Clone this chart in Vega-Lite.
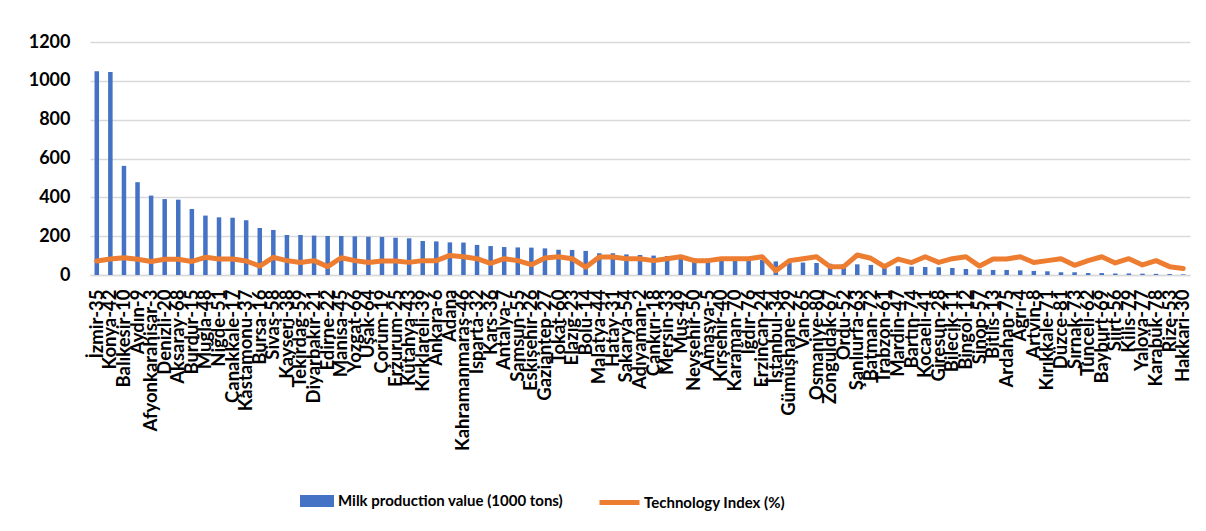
{
  "$schema": "https://vega.github.io/schema/vega-lite/v6.json",
  "width": 1100,
  "height": 233,
  "autosize": {"type": "none"},
  "padding": {"left": 90, "top": 42, "right": 16, "bottom": 256},
  "background": "white",
  "config": {
    "view": {"stroke": null},
    "font": "Lato",
    "axis": {"labelFont": "Lato", "labelColor": "#000000", "labelFontWeight": "bold"},
    "legend": {"labelFont": "Lato", "labelColor": "#000000", "labelFontWeight": "bold"}
  },
  "data": {"values": [
    {"p": "İzmir-35", "milk": 1049, "tech": 72},
    {"p": "Konya-42", "milk": 1045, "tech": 82},
    {"p": "Balıkesir-10", "milk": 562, "tech": 89},
    {"p": "Aydın-9", "milk": 478, "tech": 81},
    {"p": "Afyonkarahisar-3", "milk": 409, "tech": 70},
    {"p": "Denizli-20", "milk": 391, "tech": 81},
    {"p": "Aksaray-68", "milk": 388, "tech": 81},
    {"p": "Burdur-15", "milk": 340, "tech": 70},
    {"p": "Muğla-48", "milk": 306, "tech": 91},
    {"p": "Niğde-51", "milk": 297, "tech": 82},
    {"p": "Çanakkale-17", "milk": 295, "tech": 82},
    {"p": "Kastamonu-37", "milk": 282, "tech": 72},
    {"p": "Bursa-16", "milk": 242, "tech": 46},
    {"p": "Sivas-58", "milk": 232, "tech": 91},
    {"p": "Kayseri-38", "milk": 206, "tech": 74},
    {"p": "Tekirdağ-59", "milk": 206, "tech": 64},
    {"p": "Diyarbakır-21", "milk": 203, "tech": 74},
    {"p": "Edirne-22", "milk": 201, "tech": 43},
    {"p": "Manisa-45", "milk": 201, "tech": 89},
    {"p": "Yozgat-66", "milk": 199, "tech": 74},
    {"p": "Uşak-64", "milk": 197, "tech": 64},
    {"p": "Çorum-19", "milk": 196, "tech": 72},
    {"p": "Erzurum-25", "milk": 192, "tech": 72},
    {"p": "Kütahya-43", "milk": 189, "tech": 65},
    {"p": "Kırklareli-39", "milk": 175, "tech": 74},
    {"p": "Ankara-6", "milk": 173, "tech": 74},
    {"p": "Adana", "milk": 168, "tech": 101},
    {"p": "Kahramanmaraş-46", "milk": 167, "tech": 94},
    {"p": "Isparta-32", "milk": 155, "tech": 84},
    {"p": "Kars-36", "milk": 149, "tech": 60},
    {"p": "Antalya-7", "milk": 144, "tech": 84},
    {"p": "Samsun-55", "milk": 142, "tech": 74},
    {"p": "Eskişehir-26", "milk": 141, "tech": 53},
    {"p": "Gaziantep-27", "milk": 137, "tech": 88},
    {"p": "Tokat-60", "milk": 130, "tech": 94},
    {"p": "Elazığ-23", "milk": 129, "tech": 84},
    {"p": "Bolu-14", "milk": 124, "tech": 40},
    {"p": "Malatya-44", "milk": 112, "tech": 93},
    {"p": "Hatay-31", "milk": 112, "tech": 93},
    {"p": "Sakarya-54", "milk": 106, "tech": 84},
    {"p": "Adıyaman-2", "milk": 103, "tech": 84},
    {"p": "Çankırı-18", "milk": 100, "tech": 74},
    {"p": "Mersin-33", "milk": 98, "tech": 84},
    {"p": "Muş-49", "milk": 96, "tech": 94},
    {"p": "Nevşehir-50", "milk": 86, "tech": 74},
    {"p": "Amasya-5", "milk": 84, "tech": 74},
    {"p": "Kırşehir-40", "milk": 83, "tech": 84},
    {"p": "Karaman-70", "milk": 82, "tech": 84},
    {"p": "Iğdır-76", "milk": 80, "tech": 84},
    {"p": "Erzincan-24", "milk": 78, "tech": 94},
    {"p": "İstanbul-34", "milk": 70, "tech": 22},
    {"p": "Gümüşhane-29", "milk": 65, "tech": 74},
    {"p": "Van-65", "milk": 64, "tech": 84},
    {"p": "Osmaniye-80", "milk": 62, "tech": 94},
    {"p": "Zonguldak-67", "milk": 58, "tech": 43},
    {"p": "Ordu-52", "milk": 55, "tech": 43},
    {"p": "Şanlıurfa-63", "milk": 55, "tech": 103},
    {"p": "Batman-72", "milk": 52, "tech": 86},
    {"p": "Trabzon-61", "milk": 50, "tech": 43},
    {"p": "Mardin-47", "milk": 45, "tech": 82},
    {"p": "Bartın-74", "milk": 43, "tech": 64},
    {"p": "Kocaeli-41", "milk": 41, "tech": 94},
    {"p": "Giresun-28", "milk": 40, "tech": 65},
    {"p": "Bilecik-11", "milk": 36, "tech": 84},
    {"p": "Bingöl-12", "milk": 31, "tech": 94},
    {"p": "Sinop-57", "milk": 29, "tech": 46},
    {"p": "Bitlis-13", "milk": 26, "tech": 82},
    {"p": "Ardahan-75", "milk": 26, "tech": 82},
    {"p": "Ağrı-4", "milk": 24, "tech": 94},
    {"p": "Artvin-8", "milk": 21, "tech": 64},
    {"p": "Kırıkkale-71", "milk": 19, "tech": 74},
    {"p": "Düzce-81", "milk": 14, "tech": 84},
    {"p": "Şırnak-73", "milk": 14, "tech": 50},
    {"p": "Tunceli-62", "milk": 10, "tech": 74},
    {"p": "Bayburt-69", "milk": 10, "tech": 94},
    {"p": "Siirt-56", "milk": 8, "tech": 62},
    {"p": "Kilis-79", "milk": 8, "tech": 84},
    {"p": "Yalova-77", "milk": 7, "tech": 52},
    {"p": "Karabük-78", "milk": 6, "tech": 74},
    {"p": "Rize-53", "milk": 5, "tech": 43},
    {"p": "Hakkari-30", "milk": 3, "tech": 33}
  ]},
  "encoding": {
    "x": {
      "field": "p", "type": "nominal", "sort": null,
      "scale": {"type": "band", "paddingInner": 0, "paddingOuter": 0},
      "axis": {
        "title": null, "labelAngle": -90, "labelFontSize": 18.5, "labelPadding": 14,
        "ticks": false, "domain": true, "domainColor": "#D9D9D9", "domainWidth": 1.3,
        "labelOverlap": false, "labelBound": false, "labelLimit": 0
      }
    }
  },
  "layer": [
    {
      "mark": {"type": "bar", "size": 4.5},
      "encoding": {
        "y": {
          "field": "milk", "type": "quantitative",
          "scale": {"domain": [0, 1200], "nice": false},
          "axis": {
            "title": null, "values": [0, 200, 400, 600, 800, 1000, 1200], "format": "d",
            "labelOverlap": false, "labelFontSize": 18, "labelPadding": 20, "ticks": false, "domain": false,
            "grid": true, "gridColor": "#D9D9D9", "gridWidth": 1.3
          }
        },
        "color": {
          "datum": "Milk production value (1000 tons)",
          "scale": {"range": ["#4472C4"]},
          "legend": {
            "title": null, "orient": "none", "legendX": 210, "legendY": 442,
            "symbolType": "M-1,-0.35H1V0.35H-1Z", "symbolSize": 1156,
            "symbolStrokeWidth": 0, "symbolOpacity": 1, "labelLimit": 0,
            "labelFontSize": 15, "labelOffset": 4, "padding": 0
          }
        }
      }
    },
    {
      "mark": {"type": "line", "strokeWidth": 5, "strokeJoin": "round", "strokeCap": "round"},
      "encoding": {
        "y": {
          "field": "tech", "type": "quantitative",
          "axis": {
            "title": null, "values": [0, 200, 400, 600, 800, 1000, 1200], "format": "d",
            "labelOverlap": false, "labelFontSize": 18, "labelPadding": 20, "ticks": false, "domain": false,
            "grid": true, "gridColor": "#D9D9D9", "gridWidth": 1.3
          }
        },
        "color": {
          "datum": "Technology Index (%)",
          "scale": {"range": ["#ED7D31"]},
          "legend": {
            "title": null, "orient": "none", "legendX": 507, "legendY": 438,
            "symbolType": "stroke", "symbolSize": 1600, "symbolStrokeWidth": 5, "labelLimit": 0,
            "labelFontSize": 15, "labelOffset": 2, "padding": 0
          }
        }
      }
    }
  ],
  "resolve": {"scale": {"color": "independent"}, "legend": {"color": "independent"}}
}
